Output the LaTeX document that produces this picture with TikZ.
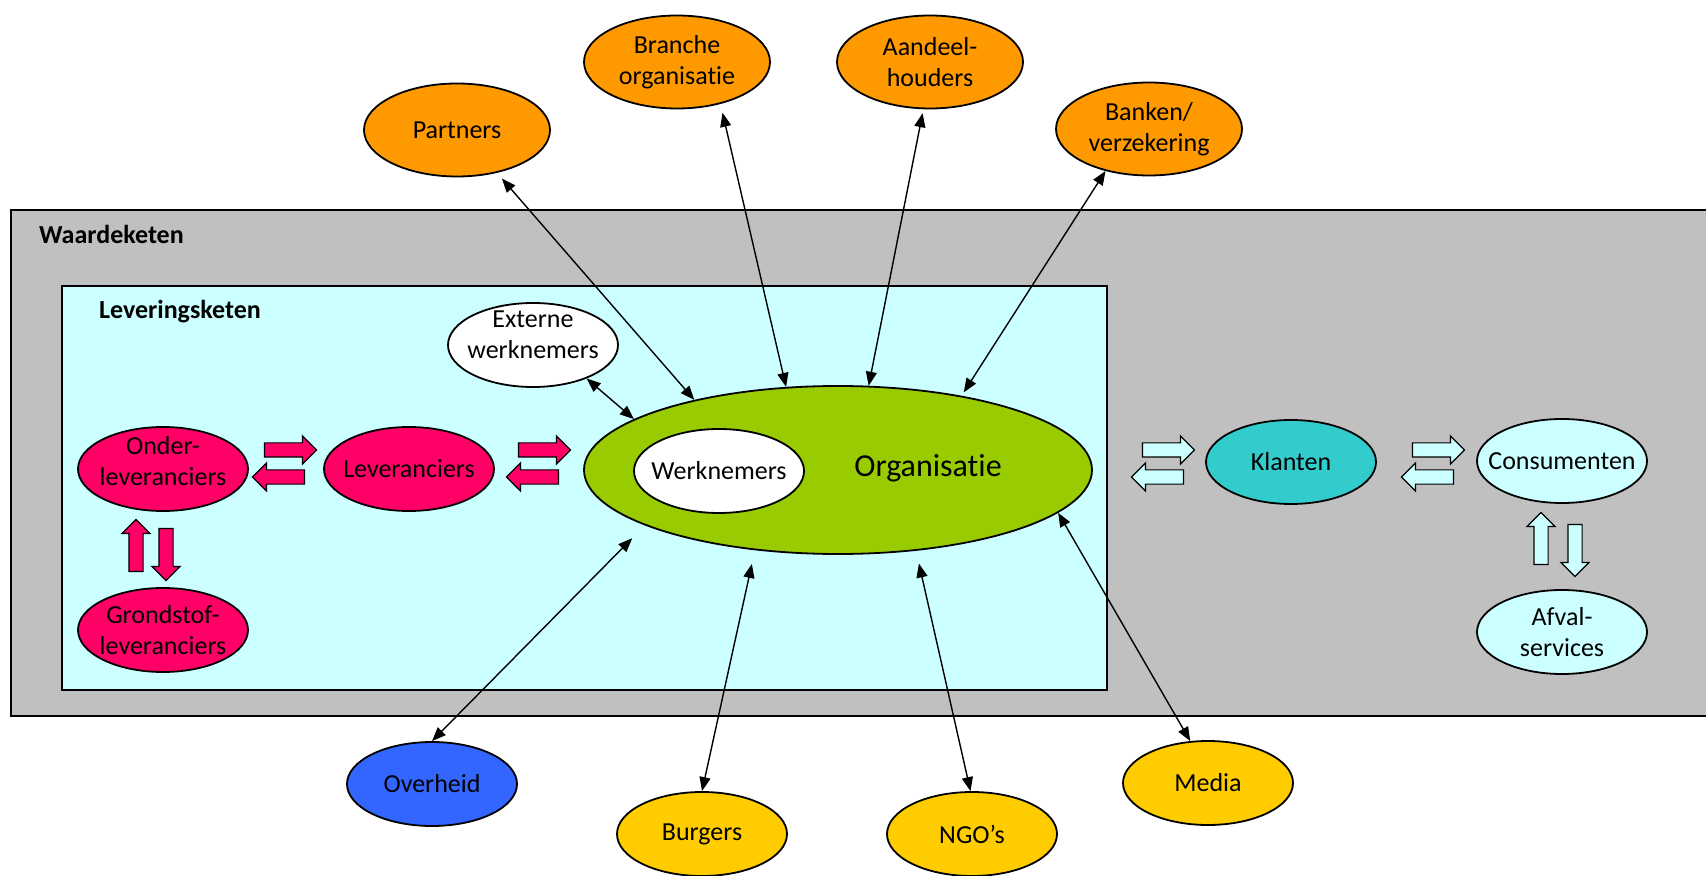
\documentclass[tikz,border=0pt]{standalone}
\usepackage{fontspec}
\setmainfont{Carlito}[Ligatures=NoCommon]
\usetikzlibrary{arrows.meta,shapes.geometric,shapes.arrows}

\definecolor{chaingray}{HTML}{C0C0C0}
\definecolor{palecyan}{HTML}{CCFFFF}
\definecolor{supplyred}{HTML}{FF0066}
\definecolor{orggreen}{HTML}{99CC00}
\definecolor{stakeorange}{HTML}{FF9900}
\definecolor{publicyellow}{HTML}{FFCC00}
\definecolor{govblue}{HTML}{3366FF}
\definecolor{clientteal}{HTML}{33CCCC}

\begin{document}
\begin{tikzpicture}[x=0.5pt, y=-0.5pt,
    every node/.style={font=\fontsize{13}{15.5}\selectfont},
    party/.style={ellipse, draw, line width=0.9pt, inner xsep=-12pt, inner ysep=-3pt,
        minimum width=85pt, minimum height=42pt, align=center},
    bigparty/.style={party, minimum width=93pt, minimum height=46.5pt},
    chainlabel/.style={anchor=west, font=\fontsize{13}{15.5}\selectfont\bfseries},
    link/.style={<->, >={Triangle[length=7pt,width=5.5pt]}, line width=0.7pt},
    flow/.style={single arrow, draw, line width=0.6pt, inner xsep=0pt, inner ysep=3.25pt,
        minimum width=0pt, minimum height=26pt, single arrow head extend=3.5pt}]
                    \useasboundingbox (0, 0) rectangle (1706, 876);

                    % waardeketen en leveringsketen
                    \draw[fill=chaingray, line width=0.8pt] (11, 210) rectangle (1740, 716);
                    \draw[fill=palecyan, line width=0.8pt] (62, 286) rectangle (1107, 690);
                    \node (waarde) at (32, 234) [chainlabel] {Waardeketen};
                    \node (levering) at (92, 312) [chainlabel] {Leveringsketen};

                    % organisatie
                    \node (org) at (838, 470) [ellipse, draw, line width=0.9pt, fill=orggreen,
                        minimum width=254pt, minimum height=84pt] {};
                    \node (orgtext) at (928, 468) [font=\fontsize{16}{19}\selectfont] {Organisatie};
                    \node (werk) at (719, 471) [party, fill=white] {Werknemers};
                    \node (ext) at (533, 345) [party, fill=white, text depth=10pt] {Externe\\werknemers};

                    % leveranciers
                    \node (onder) at (163, 469) [party, fill=supplyred, text depth=8pt] {Onder-\\leveranciers};
                    \node (lev) at (409, 469) [party, fill=supplyred] {Leveranciers};
                    \node (grond) at (163, 630) [party, fill=supplyred] {Grondstof-\\leveranciers};

                    % klanten
                    \node (klant) at (1291, 462) [party, fill=clientteal] {Klanten};
                    \node (cons) at (1562, 461) [party, fill=palecyan] {Consumenten};
                    \node (afval) at (1562, 632) [party, fill=palecyan] {Afval-\\services};

                    % boven
                    \node (partners) at (457, 130) [bigparty, fill=stakeorange] {Partners};
                    \node (branche) at (677, 62) [bigparty, fill=stakeorange] {Branche\\organisatie};
                    \node (aandeel) at (930, 62) [bigparty, fill=stakeorange] {Aandeel-\\houders};
                    \node (bank) at (1149, 129) [bigparty, fill=stakeorange] {Banken/\\verzekering};

                    % onder
                    \node (overheid) at (432, 784) [party, fill=govblue] {Overheid};
                    \node (burgers) at (702, 834) [party, fill=publicyellow] {Burgers};
                    \node (ngo) at (972, 834) [party, fill=publicyellow] {NGO’s};
                    \node (media) at (1208, 783) [party, fill=publicyellow] {Media};

                    % blokpijlen
                    \node (f1) at (287, 450) [flow, fill=supplyred] {};
                    \node (f2) at (282, 477) [flow, fill=supplyred, rotate=180] {};
                    \node (f3) at (541, 450) [flow, fill=supplyred] {};
                    \node (f4) at (536, 477) [flow, fill=supplyred, rotate=180] {};
                    \node (f5) at (136, 549) [flow, fill=supplyred, rotate=90] {};
                    \node (f6) at (166, 551) [flow, fill=supplyred, rotate=-90] {};
                    \node (f7) at (1165, 450) [flow, fill=palecyan] {};
                    \node (f8) at (1161, 477) [flow, fill=palecyan, rotate=180] {};
                    \node (f9) at (1435, 450) [flow, fill=palecyan] {};
                    \node (f10) at (1431, 477) [flow, fill=palecyan, rotate=180] {};
                    \node (f11) at (1541, 542) [flow, fill=palecyan, rotate=90] {};
                    \node (f12) at (1575, 547) [flow, fill=palecyan, rotate=-90] {};

                    % relaties
                    \draw[link, shorten <=3.75pt] (partners.-47) -- (org.154);
                    \draw[link] (ext.-32) -- (org.166);
                    \draw[link, shorten <=4.5pt] (branche.-44) -- (org.122);
                    \draw[link, shorten <=2pt] (aandeel.-98) -- (org.70);
                    \draw[link, shorten >=2pt] (bank.-136) -- (org.31);
                    \draw[link, shorten >=9pt] (overheid.north) -- (org.-164);
                    \draw[link, shorten >=7pt] (burgers.north) -- (org.-136);
                    \draw[link, shorten >=6.5pt] (ngo.92) -- (org.-46);
                    \draw[link] (media.113) -- (org.-11);
                \end{tikzpicture}
\end{document}
